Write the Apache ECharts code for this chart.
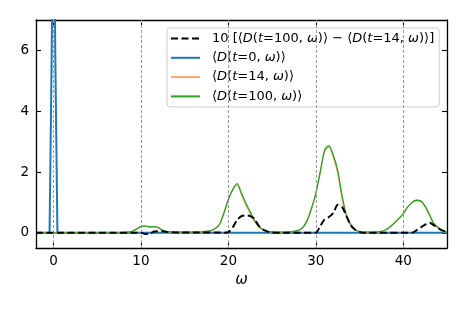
<!DOCTYPE html>
<html>
<head>
<meta charset="utf-8">
<script src="https://cdn.jsdelivr.net/npm/echarts@6/dist/echarts.min.js"></script>
<style>html,body{margin:0;padding:0;background:#fff}#c{width:468px;height:312px}</style>
</head>
<body>
<div id="c"></div>
<script>
// ---- data ----
var omega = [-2,-1.5,-1,-0.5,0,0.5,1,1.5,2,2.5,3,3.5,4,4.5,5,5.5,6,6.5,7,7.5,
  8,8.5,9,9.5,10,10.5,11,11.5,12,12.5,13,13.5,14,14.5,15,15.5,16,16.5,17,17.5,
  18,18.5,19,19.5,20,20.5,21,21.5,22,22.5,23,23.5,24,24.5,25,25.5,26,26.5,27,27.5,
  28,28.5,29,29.5,30,30.5,31,31.5,32,32.5,33,33.5,34,34.5,35,35.5,36,36.5,37,37.5,
  38,38.5,39,39.5,40,40.5,41,41.5,42,42.5,43,43.5,44,44.5,45];
var d100 = [0,0,0,0,0,0,0,0,0,0,0,0,0,0,0,0,0,0,0,0,
  0.01,0.02,0.05,0.12,0.2,0.22,0.19,0.2,0.17,0.08,0.04,0.03,0.02,0.02,0.02,0.02,0.02,0.02,0.03,0.05,
  0.07,0.14,0.28,0.66,1.1,1.43,1.62,1.3,0.97,0.69,0.4,0.21,0.1,0.05,0.03,0.02,0.02,0.02,0.03,0.05,
  0.08,0.17,0.4,0.8,1.3,2.0,2.72,2.87,2.55,2.05,1.22,0.58,0.27,0.1,0.04,0.02,0.02,0.02,0.03,0.05,
  0.1,0.2,0.33,0.47,0.63,0.85,1.0,1.07,1.05,0.88,0.6,0.3,0.17,0.07,0.02];
var d14 = [0,0,0,0,0,0,0,0,0,0,0,0,0,0,0,0,0,0,0,0,
  0.01,0.02,0.05,0.12,0.2,0.224,0.193,0.196,0.165,0.075,0.037,0.03,0.02,0.02,0.02,0.02,0.02,0.02,0.03,0.05,
  0.07,0.14,0.28,0.66,1.1,1.412,1.578,1.245,0.913,0.635,0.355,0.188,0.09,0.046,0.03,0.02,0.02,0.02,0.03,0.05,
  0.08,0.17,0.4,0.8,1.3,1.978,2.676,2.818,2.485,1.958,1.135,0.525,0.245,0.09,0.037,0.02,0.02,0.02,0.03,0.05,
  0.1,0.2,0.33,0.47,0.63,0.85,1.0,1.062,1.032,0.853,0.567,0.275,0.155,0.063,0.017];
var diff10 = [0,0,0,0,0,0,0,0,0,0,0,0,0,0,0,0,0,0,0,0,
  0,0,0,0,0,-0.04,-0.03,0.04,0.05,0.05,0.03,0.02,0.01,0.01,0.01,0.01,0.01,0.01,0.01,0.01,
  0.01,0.01,0.01,0,0.02,0.18,0.42,0.55,0.57,0.55,0.45,0.22,0.1,0.04,0.01,0,0,0,0,0,
  0,0,0,0,0,0.22,0.44,0.52,0.65,0.92,0.85,0.55,0.25,0.1,0.03,0,0,0,0,0,
  0,0,0,0,0,0,0,0.08,0.18,0.27,0.33,0.25,0.15,0.07,0.03];
var d0X = [-2,-0.45,-0.2,0,0.2,0.45,45];
var d0Y = [0,0,6,14,6,0,0];
var xTicks = [0,10,20,30,40];
var yTicks = [0,2,4,6];
var guideX = [0,10,20,30,40];
var legendNames = ['diff','d0','d14','d100'];
var legendTexts = {
  diff: '{n|10 [⟨}{i|D}{n|(}{i|t}{n|=100, }{i|ω}{n|)⟩ − ⟨}{i|D}{n|(}{i|t}{n|=14, }{i|ω}{n|)⟩]}',
  d0: '{n|⟨}{i|D}{n|(}{i|t}{n|=0, }{i|ω}{n|)⟩}',
  d14: '{n|⟨}{i|D}{n|(}{i|t}{n|=14, }{i|ω}{n|)⟩}',
  d100: '{n|⟨}{i|D}{n|(}{i|t}{n|=100, }{i|ω}{n|)⟩}'
};

function pairs(xs, ys){ return xs.map(function(x,i){ return [x, ys[i]]; }); }

var FONT = 'DejaVu Sans';
var chart = echarts.init(document.getElementById('c'), null, {renderer:'canvas'});

function xAx(pos, labels){
  return {
    type:'value', position:pos, min:-2, max:45,
    axisLine:{show:true, onZero:false, lineStyle:{color:'#000', width:1.3}},
    axisTick:{show:true, inside:true, length:5, customValues:xTicks, lineStyle:{color:'#000', width:1.1}},
    axisLabel:{show:labels, customValues:xTicks, margin:6, color:'#000', fontFamily:FONT, fontSize:13.5},
    splitLine:{show:false},
    name: labels ? 'ω' : '', nameLocation:'middle', nameGap:24,
    nameTextStyle:{fontFamily:FONT, fontStyle:'italic', fontSize:15, color:'#000'}
  };
}
function yAx(pos, labels){
  return {
    type:'value', position:pos, min:-0.5, max:7,
    axisLine:{show:true, onZero:false, lineStyle:{color:'#000', width:1.3}},
    axisTick:{show:true, inside:true, length:5, customValues:yTicks, lineStyle:{color:'#000', width:1.1}},
    axisLabel:{show:labels, customValues:yTicks, margin:7, color:'#000', fontFamily:FONT, fontSize:13.5},
    splitLine:{show:false}
  };
}

chart.setOption({
  animation:false,
  backgroundColor:'#fff',
  grid:{left:36, top:20, right:21, bottom:64, containLabel:false},
  xAxis:[xAx('bottom', true), xAx('top', false)],
  yAxis:[yAx('left', true), yAx('right', false)],
  legend:{
    data:legendNames, orient:'vertical', left:167, top:28,
    itemWidth:29, itemHeight:14, itemGap:6.3,
    padding:[4,5,4,3],
    itemStyle:{opacity:0, borderWidth:0},
    backgroundColor:'rgba(255,255,255,0.85)', borderColor:'#cccccc', borderWidth:1, borderRadius:3,
    formatter:function(name){ return legendTexts[name]; },
    textStyle:{
      padding:[0,0,0,7],
      rich:{
        n:{fontFamily:FONT, fontSize:13, color:'#000'},
        i:{fontFamily:FONT, fontSize:13, fontStyle:'italic', color:'#000'}
      }
    }
  },
  series:[
    {name:'d0', type:'line', data:pairs(d0X, d0Y), symbol:'none', z:2,
     lineStyle:{color:'#1f77b4', width:2}, itemStyle:{color:'#1f77b4'},
     markLine:{silent:true, symbol:'none', label:{show:false},
       lineStyle:{color:'#999', type:[3,2], width:1},
       data:guideX.map(function(v){ return {xAxis:v}; })}},
    {name:'d14', type:'line', data:pairs(omega, d14), symbol:'none', z:3, smooth:0.25,
     lineStyle:{color:'#ffa860', width:1.3}, itemStyle:{color:'#ffa860'}},
    {name:'d100', type:'line', data:pairs(omega, d100), symbol:'none', z:4, smooth:0.25,
     lineStyle:{color:'#2ca02c', width:1.3}, itemStyle:{color:'#2ca02c'}},
    {name:'diff', type:'line', data:pairs(omega, diff10), symbol:'none', z:5, smooth:0.25,
     lineStyle:{color:'#000', width:2, type:[7,3.5]}, itemStyle:{color:'#000'}}
  ]
});
</script>
</body>
</html>
